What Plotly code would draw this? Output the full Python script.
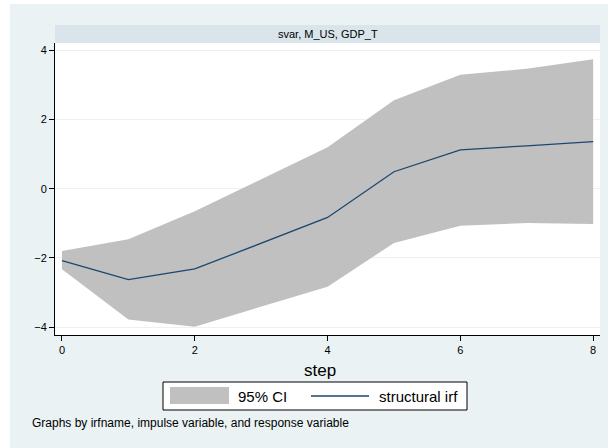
import plotly.graph_objects as go

# ---- data ----
steps = [0, 1, 2, 3, 4, 5, 6, 7, 8]
irf = [-2.08, -2.63, -2.32, -1.57, -0.83, 0.49, 1.12, 1.24, 1.36]
ci_upper = [-1.80, -1.46, -0.65, 0.27, 1.20, 2.56, 3.29, 3.47, 3.74]
ci_lower = [-2.33, -3.78, -3.99, -3.40, -2.83, -1.57, -1.07, -0.99, -1.02]
x_ticks = [0, 2, 4, 6, 8]
y_ticks = [-4, -2, 0, 2, 4]
panel_title = "svar, M_US, GDP_T"
x_title = "step"
legend_labels = ["95% CI", "structural irf"]
note = "Graphs by irfname, impulse variable, and response variable"

# ---- style ----
W, H = 608, 448
L, R, T, B = 55, 8, 43, 113
BG = "#EAF2F3"
STRIP = "#D9E5EB"
CI_COL = "#C0C0C0"
LINE_COL = "#1A476F"
FONT = "Liberation Sans, Arial, sans-serif"

pw = W - L - R
ph = H - T - B


def px_x(px):
    return (px - L) / pw


def px_y(py):
    return (H - B - py) / ph


fig = go.Figure()
fig.add_trace(go.Scatter(x=steps, y=ci_lower, mode="lines", line=dict(width=0),
                         hoverinfo="skip", showlegend=False))
fig.add_trace(go.Scatter(x=steps, y=ci_upper, mode="lines", line=dict(width=0),
                         fill="tonexty", fillcolor=CI_COL, name=legend_labels[0],
                         showlegend=False))
fig.add_trace(go.Scatter(x=steps, y=irf, mode="lines",
                         line=dict(color=LINE_COL, width=1.3),
                         name=legend_labels[1], showlegend=False))

shapes = [
    # white outer border strips (top and left)
    dict(type="rect", xref="paper", yref="paper", x0=px_x(0), x1=px_x(W),
         y0=px_y(4), y1=px_y(0), fillcolor="white", line=dict(width=0), layer="below"),
    dict(type="rect", xref="paper", yref="paper", x0=px_x(0), x1=px_x(10),
         y0=px_y(H), y1=px_y(0), fillcolor="white", line=dict(width=0), layer="below"),
    # title strip
    dict(type="rect", xref="paper", yref="paper", x0=0, x1=1,
         y0=px_y(43), y1=px_y(25), fillcolor=STRIP, line=dict(width=0)),
    # legend box
    dict(type="rect", xref="paper", yref="paper", x0=px_x(163), x1=px_x(467),
         y0=px_y(410), y1=px_y(382), fillcolor="white", line=dict(color="black", width=1)),
    dict(type="rect", xref="paper", yref="paper", x0=px_x(170), x1=px_x(229),
         y0=px_y(404), y1=px_y(387), fillcolor=CI_COL, line=dict(width=0)),
    dict(type="line", xref="paper", yref="paper", x0=px_x(311), x1=px_x(369),
         y0=px_y(396), y1=px_y(396), line=dict(color=LINE_COL, width=1.3)),
]

annotations = [
    dict(text=panel_title, xref="paper", yref="paper", x=0.5, y=px_y(34),
         xanchor="center", yanchor="middle", showarrow=False,
         font=dict(size=11, color="black", family=FONT)),
    dict(text=x_title, xref="paper", yref="paper", x=px_x(320), y=px_y(370),
         xanchor="center", yanchor="middle", showarrow=False,
         font=dict(size=17, color="black", family=FONT)),
    dict(text=legend_labels[0], xref="paper", yref="paper", x=px_x(236), y=px_y(396),
         xanchor="left", yanchor="middle", showarrow=False,
         font=dict(size=15, color="black", family=FONT)),
    dict(text=legend_labels[1], xref="paper", yref="paper", x=px_x(377), y=px_y(396),
         xanchor="left", yanchor="middle", showarrow=False,
         font=dict(size=15, color="black", family=FONT)),
    dict(text=note, xref="paper", yref="paper", x=px_x(30), y=px_y(423),
         xanchor="left", yanchor="middle", showarrow=False,
         font=dict(size=12, color="black", family=FONT)),
]

fig.update_layout(
    width=W, height=H,
    margin=dict(l=L, r=R, t=T, b=B, pad=0),
    paper_bgcolor=BG, plot_bgcolor="white",
    font=dict(family=FONT, size=11, color="black"),
    shapes=shapes, annotations=annotations, showlegend=False,
)
fig.update_xaxes(range=[-0.105, 8.103], tickvals=x_ticks, ticks="outside", ticklen=5,
                 tickcolor="black", showline=True, linecolor="black", linewidth=1,
                 showgrid=False, zeroline=False, tickfont=dict(size=11))
fig.update_yaxes(range=[-4.228, 4.211], tickvals=y_ticks, ticks="outside", ticklen=5,
                 tickcolor="black", showline=True, linecolor="black", linewidth=1,
                 showgrid=True, gridcolor=BG, gridwidth=1, zeroline=False,
                 tickfont=dict(size=11))

fig.write_html("out.html")
